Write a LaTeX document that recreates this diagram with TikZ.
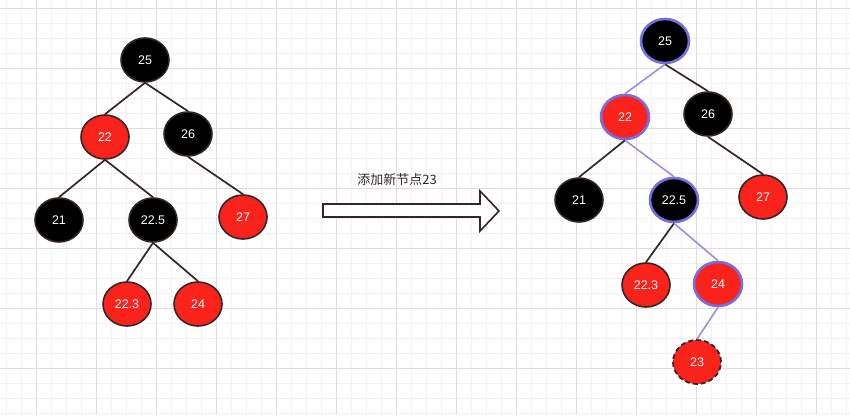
\documentclass[tikz,border=0pt]{standalone}
\usepackage{fontspec}
\setmainfont{Liberation Sans}
\newfontfamily\cjk{Noto Sans CJK SC}
\usepackage{tikz}
\usetikzlibrary{shapes.geometric}
\definecolor{rbred}{RGB}{250, 35, 28}
\definecolor{rbedge}{RGB}{50, 38, 38}
\definecolor{rbblue}{RGB}{118, 108, 228}
\definecolor{rblilac}{RGB}{150, 144, 236}
\definecolor{minorgrid}{RGB}{242, 242, 242}
\definecolor{majorgrid}{RGB}{222, 222, 222}

\begin{document}
\begin{tikzpicture}[x=1pt, y=-1pt,
    rbnode/.style={ellipse, draw=rbedge, line width=1.6pt, minimum width=48pt,
      minimum height=44pt, inner sep=0pt, text=white,
      font=\fontsize{12.5}{14}\selectfont},
    rednode/.style={rbnode, fill=rbred},
    blacknode/.style={rbnode, fill=black},
    marked/.style={draw=rbblue, line width=2.6pt},
    newnode/.style={line width=1.8pt, dash pattern=on 5pt off 3pt},
    treeline/.style={draw=rbedge, line width=1.7pt},
    markline/.style={draw=rblilac, line width=1.6pt}]

\useasboundingbox (0,0) rectangle (850,415);

% Background grid: fine lines every 15, heavier lines every 60
\foreach \gx in {6,21,...,846} \draw[minorgrid, line width=0.6pt] (\gx,0) -- (\gx,415);
\foreach \gy in {8,23,...,413} \draw[minorgrid, line width=0.6pt] (0,\gy) -- (850,\gy);
\foreach \gx in {36,96,...,816} \draw[majorgrid, line width=0.6pt] (\gx,0) -- (\gx,415);
\foreach \gy in {8,68,...,368} \draw[majorgrid, line width=0.6pt] (0,\gy) -- (850,\gy);

% Tree before the insertion
\node[blacknode] (l25)  at (145, 60)  {25};
\node[rednode]   (l22)  at (105, 137) {22};
\node[blacknode] (l26)  at (188, 134) {26};
\node[blacknode] (l21)  at (59, 220)  {21};
\node[blacknode] (l225) at (153, 220) {22.5};
\node[rednode]   (l27)  at (243, 217) {27};
\node[rednode]   (l223) at (127, 304) {22.3};
\node[rednode]   (l24)  at (198, 304) {24};

\foreach \src/\dst in {l25/l22, l25/l26, l22/l21, l22/l225, l26/l27, l225/l223, l225/l24} {
  \draw[treeline] (\src.south) -- (\dst.north);
}

% Block arrow with its caption
\path[draw=rbedge, line width=1.6pt, fill=white]
  (323,204) -- (480,204) -- (480,191) -- (499,211) -- (480,231) -- (480,217) -- (323,217) -- cycle;
\node[text=rbedge, font=\cjk\fontsize{13}{15}\selectfont] (caption) at (397,180) {添加新节点23};

% Tree after the insertion, path to the new node marked
\node[blacknode, marked] (r25)  at (665, 41)  {25};
\node[rednode, marked]   (r22)  at (625, 117) {22};
\node[blacknode]         (r26)  at (708, 114) {26};
\node[blacknode]         (r21)  at (579, 200) {21};
\node[blacknode, marked] (r225) at (674, 200) {22.5};
\node[rednode]           (r27)  at (763, 197) {27};
\node[rednode]           (r223) at (646, 285) {22.3};
\node[rednode, marked]   (r24)  at (718, 284) {24};
\node[rednode, newnode]  (r23)  at (697, 362) {23};

\foreach \src/\dst in {r25/r26, r22/r21, r26/r27, r225/r223} {
  \draw[treeline] (\src.south) -- (\dst.north);
}
\foreach \src/\dst in {r25/r22, r22/r225, r225/r24, r24/r23} {
  \draw[markline] (\src.south) -- (\dst.north);
}

\end{tikzpicture}
\end{document}
